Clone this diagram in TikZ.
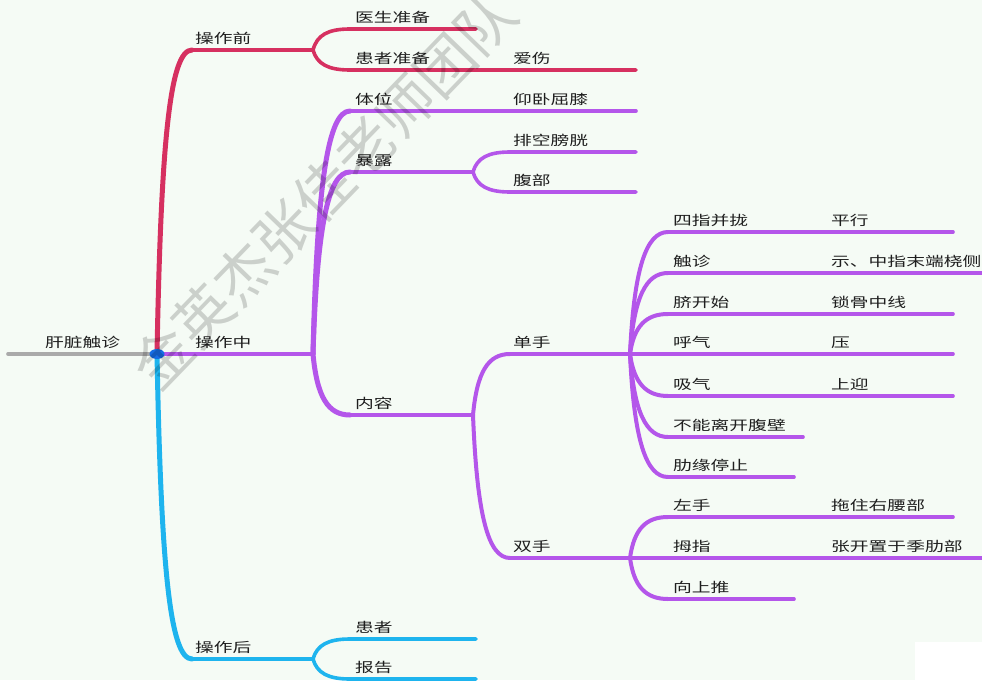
\documentclass[tikz,border=0pt]{standalone}
\usepackage{fontspec}
\newfontfamily\cjk[FakeStretch=1.4]{Noto Sans CJK SC}
\newfontfamily\wmfont{Noto Sans CJK SC}
\definecolor{prered}{RGB}{214,48,96}
\definecolor{midpurple}{RGB}{180,86,234}
\definecolor{postblue}{RGB}{30,180,238}
\definecolor{rootgray}{RGB}{170,170,170}
\definecolor{dotblue}{RGB}{22,108,228}
\definecolor{bgmint}{RGB}{245,251,245}
\definecolor{txt}{RGB}{30,30,30}

\tikzset{
  lbl/.style={anchor=base west, inner sep=0pt, text=txt, font=\cjk\fontsize{13.4}{15}\selectfont},
  % elbow=<vertical reach of first control>
  elbow/.style={to path={.. controls +(4,#1) and +(-22,0) .. (\tikztotarget) \tikztonodes}},
  br/.style={line width=3.6pt, line cap=round, line join=round},
  trunk/.style={br, line width=5pt},
  fan/.style={br, line width=4pt},
}

\begin{document}
\begin{tikzpicture}[x=1pt,y=-1pt]
  \useasboundingbox (0,0) rectangle (982,680);
  \fill[bgmint] (0,0) rectangle (982,680);
  \fill[white] (915,642) rectangle (982,680);

  % root
  \coordinate (start) at (8,354);
  \coordinate (root) at (157,354);
  \draw[br, rootgray] (start) -- (root);
  \node[lbl] (rootT) at (45,347) {肝脏触诊};

  %% 操作前
  \coordinate (pre) at (192,50);
  \coordinate (preF) at (313,50);
  \draw[trunk, prered] (root) to[elbow=-213] (pre);
  \draw[br, prered] (pre) -- (preF);
  \node[lbl] (preT) at (195,43) {操作前};
  % 医生准备
  \coordinate (ys) at (350,29);
  \coordinate (ysE) at (476,29);
  \draw[br, prered] (preF) to[elbow=-15] (ys) -- (ysE);
  \node[lbl] (ysT) at (355,22) {医生准备};
  % 患者准备 / 爱伤
  \coordinate (hz) at (350,70);
  \coordinate (hzF) at (476,70);
  \coordinate (asE) at (636,70);
  \draw[br, prered] (preF) to[elbow=14] (hz) -- (hzF) -- (asE);
  \node[lbl] (hzT) at (355,63) {患者准备};
  \node[lbl] (asT) at (513,63) {爱伤};

  %% 操作中
  \coordinate (midF) at (313,354);
  \draw[br, midpurple] (root) -- (midF);
  \node[lbl] (midT) at (195,347) {操作中};
  % 体位
  \coordinate (tw) at (350,111);
  \coordinate (twF) at (473,111);
  \coordinate (wqE) at (636,111);
  \draw[trunk, midpurple] (midF) to[elbow=-170] (tw);
  \draw[br, midpurple] (tw) -- (twF) -- (wqE);
  \node[lbl] (twT) at (355,104) {体位};
  \node[lbl] (wqT) at (513,104) {仰卧屈膝};
  % 暴露
  \coordinate (bl) at (350,172);
  \coordinate (blF) at (473,172);
  \draw[trunk, midpurple] (midF) to[elbow=-127] (bl);
  \draw[br, midpurple] (bl) -- (blF);
  \node[lbl] (blT) at (355,165) {暴露};
  \coordinate (pk) at (510,152);
  \coordinate (pkE) at (636,152);
  \draw[br, midpurple] (blF) to[elbow=-14] (pk) -- (pkE);
  \node[lbl] (pkT) at (513,145) {排空膀胱};
  \coordinate (fb) at (510,192);
  \coordinate (fbE) at (636,192);
  \draw[br, midpurple] (blF) to[elbow=14] (fb) -- (fbE);
  \node[lbl] (fbT) at (513,185) {腹部};
  % 内容
  \coordinate (nr) at (350,415);
  \coordinate (nrF) at (473,415);
  \draw[trunk, midpurple] (midF) to[elbow=43] (nr);
  \draw[br, midpurple] (nr) -- (nrF);
  \node[lbl] (nrT) at (355,408) {内容};
  % 单手
  \coordinate (ds) at (510,354);
  \coordinate (dsF) at (630,354);
  \draw[fan, midpurple] (nrF) to[elbow=-43] (ds);
  \draw[br, midpurple] (ds) -- (dsF);
  \node[lbl] (dsT) at (513,347) {单手};
  % 双手
  \coordinate (ss) at (510,558);
  \coordinate (ssF) at (630,558);
  \draw[fan, midpurple] (nrF) to[elbow=100] (ss);
  \draw[br, midpurple] (ss) -- (ssF);
  \node[lbl] (ssT) at (513,551) {双手};

  % 单手 children
  \coordinate (c1) at (668,232); \coordinate (c1E) at (953,232);
  \draw[fan, midpurple] (dsF) to[elbow=-85] (c1);
  \draw[br, midpurple] (c1) -- (c1E);
  \node[lbl] (c1T) at (673,225) {四指并拢};
  \node[lbl] (c1G) at (831,225) {平行};
  \coordinate (c2) at (668,273); \coordinate (c2E) at (992,273);
  \draw[fan, midpurple] (dsF) to[elbow=-57] (c2);
  \draw[br, midpurple] (c2) -- (c2E);
  \node[lbl] (c2T) at (673,266) {触诊};
  \node[lbl] (c2G) at (831,266) {示、中指末端桡侧};
  \coordinate (c3) at (668,314); \coordinate (c3E) at (953,314);
  \draw[fan, midpurple] (dsF) to[elbow=-28] (c3);
  \draw[br, midpurple] (c3) -- (c3E);
  \node[lbl] (c3T) at (673,307) {脐开始};
  \node[lbl] (c3G) at (831,307) {锁骨中线};
  \coordinate (c4) at (668,354); \coordinate (c4E) at (953,354);
  \draw[br, midpurple] (dsF) -- (c4) -- (c4E);
  \node[lbl] (c4T) at (673,347) {呼气};
  \node[lbl] (c4G) at (831,347) {压};
  \coordinate (c5) at (668,396); \coordinate (c5E) at (953,396);
  \draw[fan, midpurple] (dsF) to[elbow=29] (c5);
  \draw[br, midpurple] (c5) -- (c5E);
  \node[lbl] (c5T) at (673,389) {吸气};
  \node[lbl] (c5G) at (831,389) {上迎};
  \coordinate (c6) at (668,437); \coordinate (c6E) at (803,437);
  \draw[fan, midpurple] (dsF) to[elbow=58] (c6);
  \draw[br, midpurple] (c6) -- (c6E);
  \node[lbl] (c6T) at (673,430) {不能离开腹壁};
  \coordinate (c7) at (668,477); \coordinate (c7E) at (794,477);
  \draw[fan, midpurple] (dsF) to[elbow=86] (c7);
  \draw[br, midpurple] (c7) -- (c7E);
  \node[lbl] (c7T) at (673,470) {肋缘停止};

  % 双手 children
  \coordinate (d1) at (668,517); \coordinate (d1E) at (953,517);
  \draw[fan, midpurple] (ssF) to[elbow=-29] (d1);
  \draw[br, midpurple] (d1) -- (d1E);
  \node[lbl] (d1T) at (673,510) {左手};
  \node[lbl] (d1G) at (831,510) {拖住右腰部};
  \coordinate (d2) at (668,558); \coordinate (d2E) at (992,558);
  \draw[br, midpurple] (ssF) -- (d2) -- (d2E);
  \node[lbl] (d2T) at (673,551) {拇指};
  \node[lbl] (d2G) at (831,551) {张开置于季肋部};
  \coordinate (d3) at (668,599); \coordinate (d3E) at (794,599);
  \draw[fan, midpurple] (ssF) to[elbow=29] (d3);
  \draw[br, midpurple] (d3) -- (d3E);
  \node[lbl] (d3T) at (673,592) {向上推};

  %% 操作后
  \coordinate (post) at (192,659);
  \coordinate (postF) at (313,659);
  \draw[trunk, postblue] (root) to[elbow=213] (post);
  \draw[br, postblue] (post) -- (postF);
  \node[lbl] (postT) at (195,652) {操作后};
  \coordinate (hz2) at (350,639); \coordinate (hz2E) at (476,639);
  \draw[br, postblue] (postF) to[elbow=-14] (hz2) -- (hz2E);
  \node[lbl] (hz2T) at (355,632) {患者};
  \coordinate (bg) at (350,679); \coordinate (bgE) at (476,679);
  \draw[br, postblue] (postF) to[elbow=14] (bg) -- (bgE);
  \node[lbl] (bgT) at (355,672) {报告};

  % root dot
  \fill[dotblue] (root) ellipse [x radius=7.5pt, y radius=5pt];

  % watermark
  \node[rotate=46, text=black, opacity=0.17, inner sep=0pt,
        font=\wmfont\fontsize{58}{60}\selectfont] (wm) at (324,190) {金英杰张佳老师团队};
\end{tikzpicture}
\end{document}
